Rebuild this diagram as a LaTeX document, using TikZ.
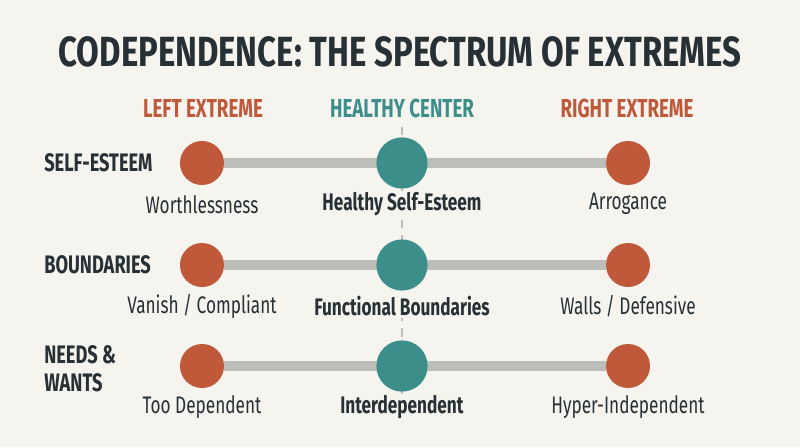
\documentclass[tikz,border=0pt]{standalone}
\usepackage{fontspec}
\setmainfont{Fira Sans}
\newfontfamily\condfont[FakeStretch=0.72]{Fira Sans}
\newfontfamily\headfont[FakeStretch=0.78]{Fira Sans}
\usetikzlibrary{positioning, backgrounds}

\definecolor{bgcol}{HTML}{F5F4EF}
\definecolor{inkcol}{HTML}{263035}
\definecolor{extremecol}{HTML}{C0583A}
\definecolor{healthcol}{HTML}{3C8E8A}
\definecolor{barcol}{HTML}{BDBDBA}

\begin{document}
\begin{tikzpicture}[x=0.025cm, y=-0.025cm, node distance=1.03cm, on grid,
    extreme/.style={circle, fill=extremecol, minimum size=1.1cm, inner sep=0pt},
    healthy/.style={circle, fill=healthcol, minimum size=1.28cm, inner sep=0pt},
    pole/.style={font=\condfont\fontsize{17}{17}\selectfont, text=inkcol, inner sep=1pt},
    goal/.style={pole, font=\condfont\bfseries\fontsize{17}{17}\selectfont, fill=bgcol},
    rowname/.style={anchor=west, align=left, font=\condfont\bfseries\fontsize{18}{20}\selectfont, text=inkcol, inner sep=0pt},
    colhead/.style={font=\condfont\bfseries\fontsize{18.5}{18.5}\selectfont, inner sep=0pt},
    bar/.style={barcol, line width=7pt},
    axis/.style={barcol, line width=1.2pt, dash pattern=on 6pt off 5pt}]
        \useasboundingbox (0,0) rectangle (800,447);
        \node[font=\headfont\bfseries\fontsize{30}{30}\selectfont, text=inkcol] (title) at (400,52) {CODEPENDENCE: THE SPECTRUM OF EXTREMES};

        \node[colhead, text=extremecol] (hleft) at (203,108) {LEFT EXTREME};
        \node[colhead, text=healthcol] (hmid) at (402,108) {HEALTHY CENTER};
        \node[colhead, text=extremecol] (hright) at (627,108) {RIGHT EXTREME};
        \coordinate (top) at (402,127);
        \coordinate (bottom) at (402,397);

        % self-esteem
        \node[rowname] (esteem) at (44,163) {SELF-ESTEEM};
        \node[extreme] (l1) at (202,163) {};
        \node[healthy] (c1) at (402,163) {};
        \node[extreme] (r1) at (628,163) {};
        \node[pole] (tl1) [below=of l1] {Worthlessness};
        \node[goal] (tc1) [below=of c1] {Healthy Self-Esteem};
        \node[pole] (tr1) [below=of r1] {Arrogance};

        % boundaries
        \node[rowname] (bounds) at (44,265) {BOUNDARIES};
        \node[extreme] (l2) at (202,265) {};
        \node[healthy] (c2) at (402,265) {};
        \node[extreme] (r2) at (628,265) {};
        \node[pole] (tl2) [below=of l2] {Vanish / Compliant};
        \node[goal] (tc2) [below=of c2] {Functional Boundaries};
        \node[pole] (tr2) [below=of r2] {Walls / Defensive};

        % needs and wants
        \node[rowname] (needs) at (44,369) {NEEDS \&\\WANTS};
        \node[extreme] (l3) at (202,366) {};
        \node[healthy] (c3) at (402,366) {};
        \node[extreme] (r3) at (628,366) {};
        \node[pole] (tl3) [below=of l3] {Too Dependent};
        \node[goal] (tc3) [below=of c3] {Interdependent};
        \node[pole] (tr3) [below=of r3] {Hyper-Independent};

        \begin{scope}[on background layer]
          \fill[bgcol] (0,0) rectangle (800,447);
          \draw[axis] (top) -- (bottom);
          \draw[bar] (l1) -- (r1);
          \draw[bar] (l2) -- (r2);
          \draw[bar] (l3) -- (r3);
        \end{scope}
      \end{tikzpicture}
\end{document}
